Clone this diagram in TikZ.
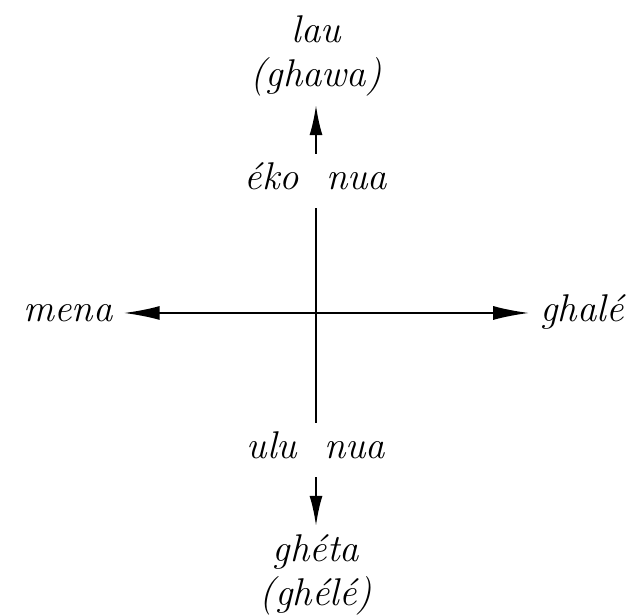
\documentclass[tikz,border=0pt]{standalone}
\usepackage{tikz}
\usetikzlibrary{arrows.meta, positioning}

\begin{document}
\begin{tikzpicture}[
    word/.style={font=\itshape\fontsize{11}{13}\selectfont, text height=1.6ex, text depth=0.5ex, inner sep=3pt},
    axis/.style={semithick, color=black},
    bigarrow/.style={{Latex[length=3.6mm, width=1.4mm]}-{Latex[length=3.6mm, width=1.4mm]}, semithick},
    smallarrow/.style={-{Latex[length=3mm, width=1.3mm]}, semithick}
]
    \useasboundingbox (0,0) rectangle (6.29,6.16);
    \coordinate (centre) at (3.16,3.03);

    % Labels
    \node[word] (mena) at (0.68,3.03) {mena};
    \node[word] (ghale) at (5.82,3.03) {ghal\'e};
    \node[word] (ekonua) at (3.16,4.35) {\'eko\ \ nua};
    \node[word] (ghawa) at (3.16,5.38) {(ghawa)};
    \node[word, above=-0.1cm of ghawa] (lau) {lau};
    \node[word] (ulunua) at (3.16,1.66) {ulu\ \ nua};
    \node[word] (gheta) at (3.16,0.63) {gh\'eta};
    \node[word, below=-0.1cm of gheta] (ghele) {(gh\'el\'e)};

    % Axes
    \draw[bigarrow] (mena) -- (ghale);
    \draw[axis] (ekonua) -- (ulunua);
    \draw[smallarrow] (ekonua) -- (ghawa);
    \draw[smallarrow] (ulunua) -- (gheta);
\end{tikzpicture}
\end{document}
